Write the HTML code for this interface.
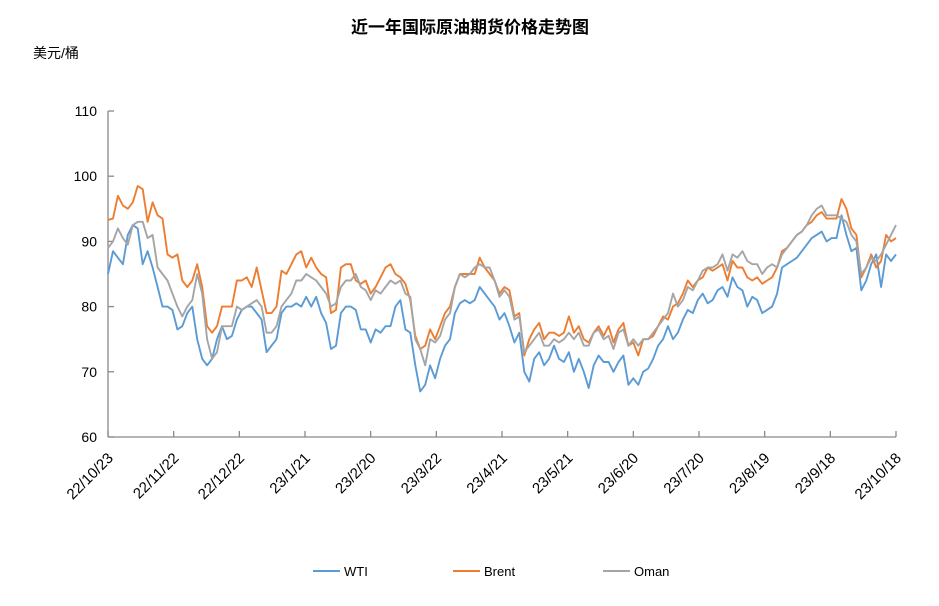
<!DOCTYPE html>
<html><head><meta charset="utf-8"><style>
body{margin:0;background:#fff;}
svg text{font-family:"Liberation Sans","Noto Sans CJK SC",sans-serif;}
</style></head><body>
<svg width="939" height="601" viewBox="0 0 939 601" xmlns="http://www.w3.org/2000/svg" id="chart">
<rect width="939" height="601" fill="#fff"/>
<text x="470" y="33" text-anchor="middle" font-size="17" font-weight="bold" fill="#000">近一年国际原油期货价格走势图</text>
<text x="33" y="58" font-size="14" fill="#000">美元/桶</text>
<g id="axes"></g>
<g id="series"></g>
<g id="legend"></g>
</svg>
<script>
const yTicks=[60,70,80,90,100,110];
const dateLabels=["22/10/23","22/11/22","22/12/22","23/1/21","23/2/20","23/3/22","23/4/21","23/5/21","23/6/20","23/7/20","23/8/19","23/9/18","23/10/18"];
const seriesNames=["WTI","Brent","Oman"];
const wti=[85,88.5,87.5,86.5,91,92.5,92,86.5,88.5,86,83,80,80,79.5,76.5,77,79,80,75,72,71,72,75,77,75,75.5,78,79.5,80,80,79,78,73,74,75,79,80,80,80.5,80,81.5,80,81.5,79,77.5,73.5,74,79,80,80,79.5,76.5,76.5,74.5,76.5,76,77,77,80,81,76.5,76,71,67,68,71,69,72,74,75,79,80.5,81,80.5,81,83,82,81,80,78,79,77,74.5,76,70,68.5,72,73,71,72,74,72,71.5,73,70,72,70,67.5,71,72.5,71.5,71.5,70,71.5,72.5,68,69,68,70,70.5,72,74,75,77,75,76,78,79.5,79,81,82,80.5,81,82.5,83,81.5,84.5,83,82.5,80,81.5,81,79,79.5,80,82,86,86.5,87,87.5,88.5,89.5,90.5,91,91.5,90,90.5,90.5,94,91,88.5,89,82.5,84,86.5,88,83,88,87,88];
const brent=[93.3,93.5,97,95.5,95,96,98.5,98,93,96,94,93.5,88,87.5,88,84,83,84,86.5,83,77,76,77,80,80,80,84,84,84.5,83,86,82.5,79,79,80,85.5,85,86.5,88,88.5,86,87.5,86,85,84.5,79,79.5,86,86.5,86.5,84,83.5,84,82,83,84.5,86,86.5,85,84.5,83.5,81,75.5,73.5,74,76.5,75,77,79,80,83,85,85,85,85,87.5,86,85,84,82,83,82.5,78.5,79,72.5,75,76.5,77.5,75,76,76,75.5,76,78.5,76,77,75,74.5,76,77,75.5,77,74.5,76.5,77.5,74,74.5,72.5,75,75,75.5,77,78.5,78,80,80.5,82,84,83,84,84.5,86,85.5,86,86.5,84,87,86,86,84.5,84,84.5,83.5,84,84.5,86,88.5,89,90,91,91.5,92.5,93,94,94.5,93.5,93.5,93.5,96.5,95,92,91,84.5,86,88,86,87,91,90,90.5];
const oman=[89,90,92,90.5,89.5,92.5,93,93,90.5,91,86,85,84,82,80,78.5,80,81,85,82,75,72,73,77,77,77,80,79.5,80,80.5,81,80,76,76,77,80,81,82,84,84,85,84.5,84,83,82,80,80.5,83,84,84,85,83,82.5,81,82.5,82,83,84,83.5,84,82,81.5,75,73.5,71,75,74.5,75.5,78,79,83,85,84.5,85,86,86.5,86,86,84,81.5,82.5,81.5,78,78.5,73,74,75,76,74,74,75,74.5,75,76,75,76,74,74,76,76.5,75,75.5,73.5,76,76.5,74,75,74,75,75,76,77,78,79,82,80,81,83,82.5,84,85.5,86,86,86.5,88,85.5,88,87.5,88.5,87,86.5,86.5,85,86,86.5,86,88,89,90,91,91.5,92.5,94,95,95.5,94,94,94,93.5,93,91,90,85,86,87.5,87,88,89.5,91,92.5];
const colors=["#5b9bd5","#ed7d31","#a5a5a5"];
const X0=108,X1=896,Y0=437,Y1=111;
const ns="http://www.w3.org/2000/svg";
function yScale(v){return Y0-(v-60)/(110-60)*(Y0-Y1);}
function xIdx(i,n){return X0+i*(X1-X0)/(n-1);}
function mk(tag,attrs,parent){const e=document.createElementNS(ns,tag);for(const k in attrs)e.setAttribute(k,attrs[k]);parent.appendChild(e);return e;}
const axes=document.getElementById('axes');
const ax=mk('line',{x1:X0,y1:Y1,x2:X0,y2:Y0,stroke:'#898989','stroke-width':1.3},axes);


const bx=mk('line',{x1:X0,y1:Y0,x2:X1,y2:Y0,stroke:'#898989','stroke-width':1.3},axes);


yTicks.forEach(v=>{const y=yScale(v);
 const t=mk('line',{x1:X0,y1:y,x2:X0+6,y2:y,stroke:'#898989','stroke-width':1.3},axes);
 
 
 const tx=mk('text',{x:97,y:y+5,'text-anchor':'end','font-size':14,fill:'#000'},axes);
 tx.textContent=v;
 
 
});
dateLabels.forEach((d,i)=>{const x=xIdx(i,dateLabels.length);
 const t=mk('line',{x1:x,y1:Y0,x2:x,y2:Y0-6,stroke:'#898989','stroke-width':1.3},axes);
 
 
 const ax_=x+6,ay=Y0+22;
 const tx=mk('text',{x:ax_,y:ay,'text-anchor':'end','font-size':15,fill:'#000',transform:`rotate(-45 ${ax_} ${ay})`},axes);
 tx.textContent=d;
 
 
});
const sg=document.getElementById('series');
[wti,brent,oman].forEach((arr,k)=>{
 const pts=arr.map((v,i)=>xIdx(i,arr.length).toFixed(1)+','+yScale(v).toFixed(1)).join(' ');
 const pl=mk('polyline',{points:pts,fill:'none',stroke:colors[k],'stroke-width':1.9,'stroke-linejoin':'round'},sg);
 
 
});
const lg=document.getElementById('legend');
const lx=[313,453,603];
seriesNames.forEach((n,k)=>{
 const g=mk('g',{},lg);
 
 
 mk('line',{x1:lx[k],y1:571,x2:lx[k]+27,y2:571,stroke:colors[k],'stroke-width':2},g);
 const t=mk('text',{x:lx[k]+31,y:576,'font-size':13,fill:'#000'},g);
 t.textContent=n;
});
</script>
</body></html>
